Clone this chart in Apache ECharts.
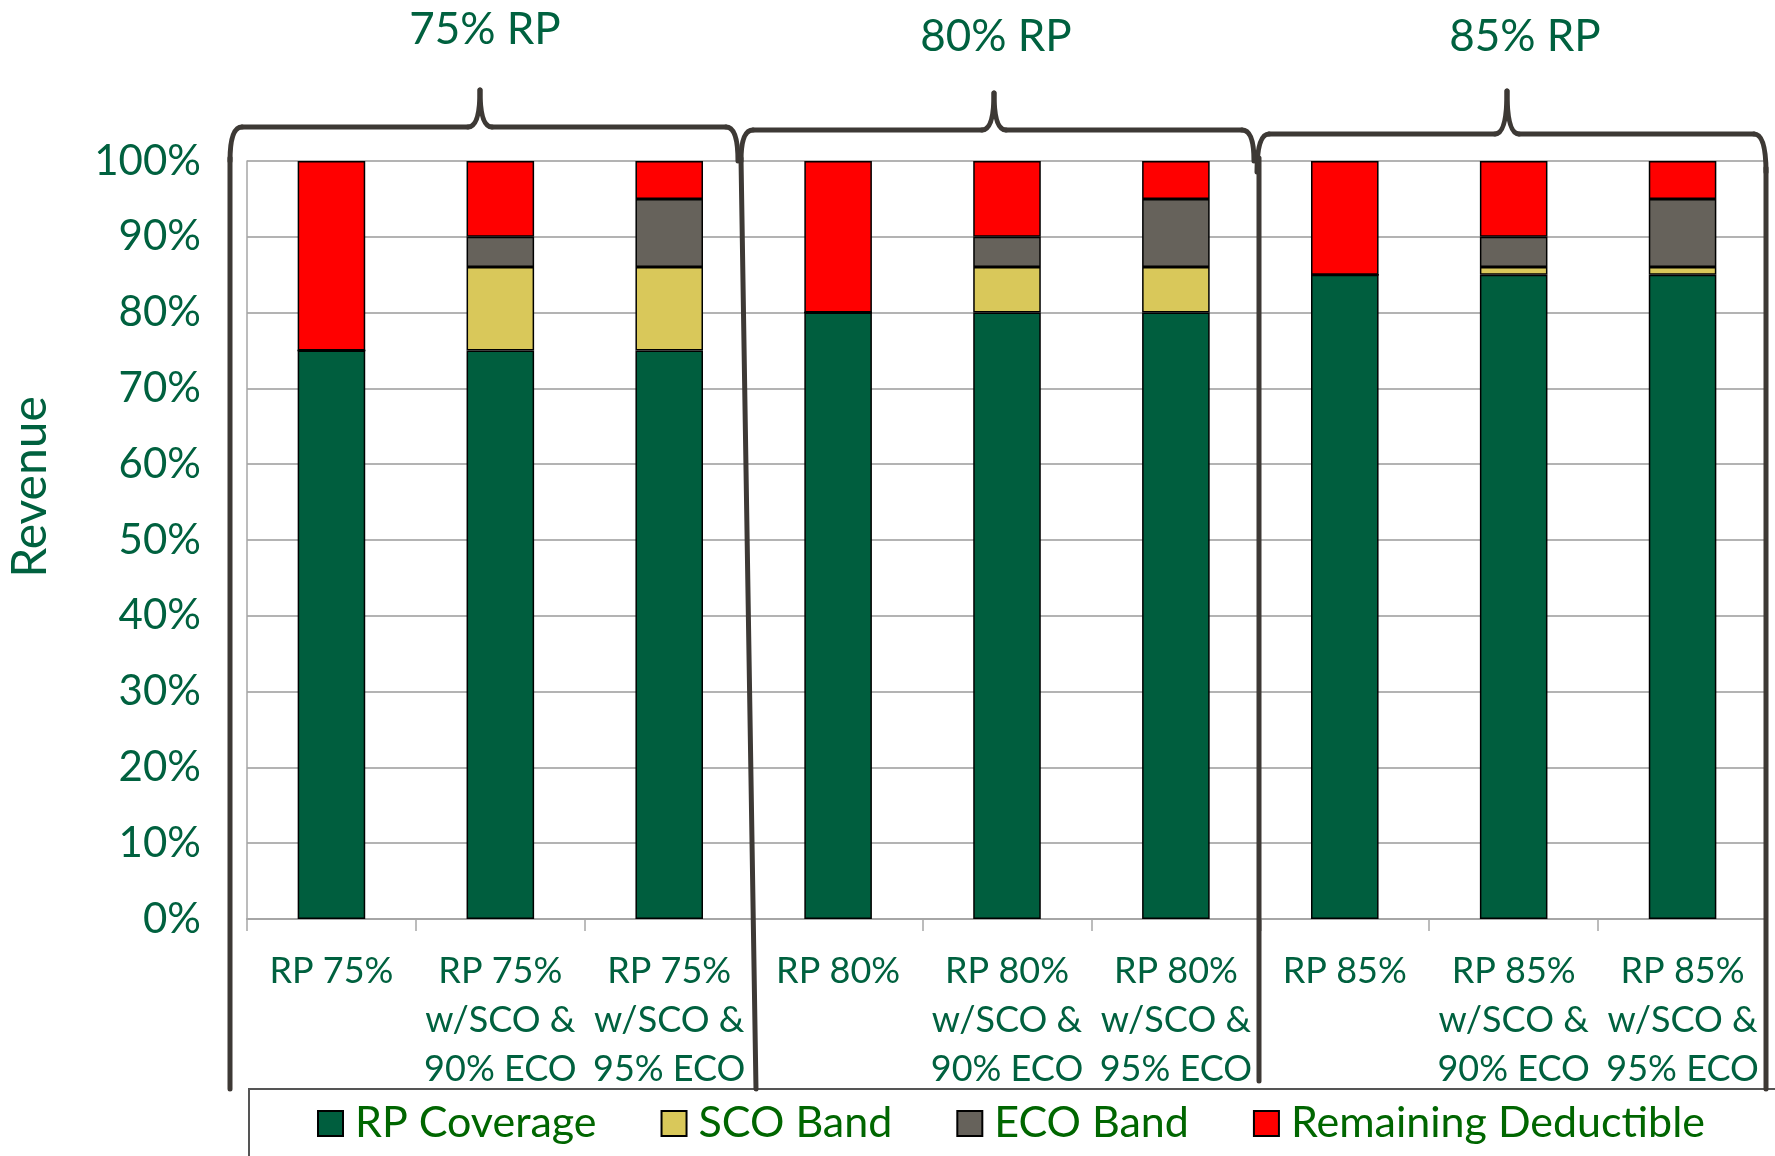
<!DOCTYPE html>
<html>
<head>
<meta charset="utf-8">
<script src="https://cdn.jsdelivr.net/npm/echarts@6/dist/echarts.min.js"></script>
<style>
html,body{margin:0;padding:0;background:#fff;}
#main{width:1775px;height:1156px;}
</style>
</head>
<body>
<div id="main"></div>
<script>
var categories = [
  "RP 75%", "RP 75%\nw/SCO &\n90% ECO", "RP 75%\nw/SCO &\n95% ECO",
  "RP 80%", "RP 80%\nw/SCO &\n90% ECO", "RP 80%\nw/SCO &\n95% ECO",
  "RP 85%", "RP 85%\nw/SCO &\n90% ECO", "RP 85%\nw/SCO &\n95% ECO"
];
var rpCoverage = [75, 75, 75, 80, 80, 80, 85, 85, 85];
var scoBand = [0, 11, 11, 0, 6, 6, 0, 1, 1];
var ecoBand = [0, 4, 9, 0, 4, 9, 0, 4, 9];
var remainingDeductible = [25, 10, 5, 20, 10, 5, 15, 10, 5];
var yTicks = [0, 10, 20, 30, 40, 50, 60, 70, 80, 90, 100];
var groupTitles = ["75% RP", "80% RP", "85% RP"];

var FONT = "Lato, 'Open Sans', 'DejaVu Sans', sans-serif";
var TXT = "#00613F";
var BR = "#3D3935";

var chart = echarts.init(document.getElementById('main'));

function bar(name, data, color) {
  return {
    name: name, type: 'bar', stack: 'total', data: data, barWidth: '40%',
    itemStyle: { color: color, borderColor: '#000', borderWidth: 1.5 },
    emphasis: { disabled: true }
  };
}

var bstyle = { stroke: BR, lineWidth: 5, fill: null, lineCap: 'round' };
function curve(x1, y1, cx, cy, x2, y2) {
  return { type: 'bezierCurve', z: 100, shape: { x1: x1, y1: y1, x2: x2, y2: y2, cpx1: cx, cpy1: cy }, style: bstyle };
}
function seg(x1, y1, x2, y2) {
  return { type: 'line', z: 100, shape: { x1: x1, y1: y1, x2: x2, y2: y2 }, style: bstyle };
}
function brace(x0, x1, xm, yh, yt, yb) {
  var r = 12, r2 = 12;
  return [
    curve(x0, yb, x0, yh, x0 + r, yh),
    seg(x0 + r, yh, xm - r2, yh),
    curve(xm - r2, yh, xm, yh, xm, yt),
    curve(xm + r2, yh, xm, yh, xm, yt),
    seg(xm + r2, yh, x1 - r, yh),
    curve(x1, yb, x1, yh, x1 - r, yh)
  ];
}

var graphics = [
  { type: 'rect', z: 1, shape: { x: 249, y: 1089, width: 1600, height: 200 },
    style: { fill: null, stroke: '#555', lineWidth: 2 } }
].concat(
  brace(230, 738, 480, 127, 90, 161),
  brace(741, 1254, 994, 130, 93, 161),
  brace(1257, 1766, 1507, 134, 91, 172),
  [
    seg(230, 158, 230, 1089),
    seg(741, 158, 756, 1089),
    seg(1259, 158, 1259, 1081),
    seg(1766, 168, 1766, 1089),
    { type: 'text', z: 100, x: 485, y: 30, style: { text: groupTitles[0], fill: TXT, font: '44px ' + FONT, textAlign: 'center', textVerticalAlign: 'middle' } },
    { type: 'text', z: 100, x: 996, y: 37, style: { text: groupTitles[1], fill: TXT, font: '44px ' + FONT, textAlign: 'center', textVerticalAlign: 'middle' } },
    { type: 'text', z: 100, x: 1525, y: 37, style: { text: groupTitles[2], fill: TXT, font: '44px ' + FONT, textAlign: 'center', textVerticalAlign: 'middle' } },
    { type: 'text', z: 100, x: 31, y: 487, rotation: Math.PI / 2, style: { text: 'Revenue', fill: TXT, font: '48px ' + FONT, textAlign: 'center', textVerticalAlign: 'middle' } }
  ]
);

var option = {
  animation: false,
  backgroundColor: '#fff',
  grid: { left: 247, right: 8, top: 161, bottom: 237, containLabel: false },
  xAxis: {
    type: 'category', data: categories,
    axisLine: { show: true, lineStyle: { color: '#A6A6A6', width: 2 } },
    axisTick: { show: true, length: 12, lineStyle: { color: '#A6A6A6', width: 1.5 } },
    axisLabel: { interval: 0, color: TXT, fontFamily: FONT, fontSize: 36, lineHeight: 49, margin: 28 },
    splitLine: { show: false }
  },
  yAxis: {
    type: 'value', min: 0, max: 100, interval: 10,
    axisLine: { show: true, lineStyle: { color: '#A6A6A6', width: 1.5 } },
    axisTick: { show: false },
    axisLabel: { color: TXT, fontFamily: FONT, fontSize: 42, margin: 46,
      formatter: function (v) { return yTicks.indexOf(v) >= 0 ? v + '%' : ''; } },
    splitLine: { show: true, lineStyle: { color: '#B3B3B3', width: 2 } }
  },
  legend: {
    left: 312, top: 1097, icon: 'rect', itemWidth: 25, itemHeight: 25, itemGap: 64,
    textStyle: { color: '#006600', fontFamily: FONT, fontSize: 43, padding: [0, 0, 0, 7] },
    selectedMode: false
  },
  series: [
    bar('RP Coverage', rpCoverage, '#005E3E'),
    bar('SCO Band', scoBand, '#D9C85A'),
    bar('ECO Band', ecoBand, '#66625B'),
    bar('Remaining Deductible', remainingDeductible, '#FF0000')
  ],
  graphic: graphics
};
chart.setOption(option);
</script>
</body>
</html>
